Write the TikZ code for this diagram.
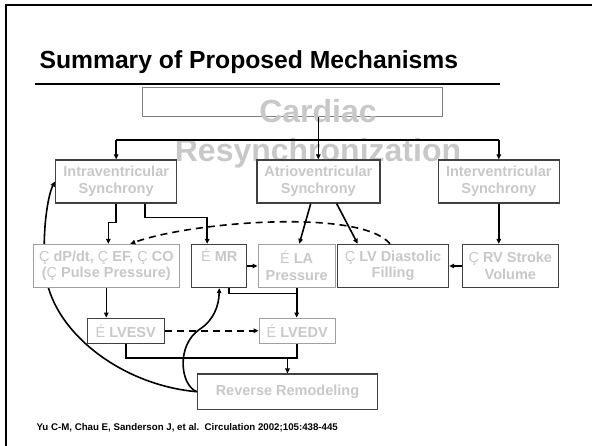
\documentclass[tikz,border=0pt]{standalone}
\usepackage{fontspec}
\setmainfont{Liberation Sans}
\usetikzlibrary{arrows.meta,backgrounds}
\definecolor{txtgray}{HTML}{C8C8C8}
\definecolor{edgedark}{HTML}{404040}
\definecolor{edgelight}{HTML}{A0A0A0}
\tikzset{>/.tip={Triangle[length=5pt,width=4.5pt]},
  blk/.style={draw=edgedark, line width=1.4pt, fill=white, text=txtgray, align=center,
    inner sep=0pt, font=\bfseries\fontsize{14.5}{16.5}\selectfont},
  blkl/.style={blk, draw=edgelight},
  wire/.style={line width=1.6pt},
  dsh/.style={dash pattern=on 7pt off 5pt}}
\newcommand{\upa}{\textmd{Ç}}
\newcommand{\dna}{\textmd{É}}

\begin{document}
\begin{tikzpicture}[x=1pt,y=-1pt]
\useasboundingbox (0,0) rectangle (592,446);
\draw[line width=2.4pt] (6,446) -- (6,5) -- (592,5);
\node[anchor=base west, font=\bfseries\fontsize{24.7}{29}\selectfont] (title) at (36,68.3) {Summary of Proposed Mechanisms};
\draw[line width=1.8pt] (35,84) -- (500,84);

\node[draw=gray, line width=1pt, minimum width=300, minimum height=29, inner sep=0pt] (card) at (292,102.5) {};
\node[anchor=base, text=txtgray, font=\bfseries\fontsize{32}{38}\selectfont] (crd1) at (318,123) {Cardiac};
\node[anchor=base, text=txtgray, font=\bfseries\fontsize{32}{38}\selectfont] (crd2) at (318,162) {Resynchronization};

\node[blk, minimum width=121, minimum height=43] (intra) at (116.2,181.5) {Intraventricular\\Synchrony};
\node[blk, minimum width=123, minimum height=43] (atrio) at (318.3,181.5) {Atrioventricular\\Synchrony};
\node[blk, minimum width=121, minimum height=43] (inter) at (498.8,181.5) {Interventricular\\Synchrony};

\node[blkl, minimum width=146, minimum height=43] (dp) at (106.3,266) {\upa{} dP/dt, \upa{} EF, \upa{} CO\\(\upa{} Pulse Pressure)};
\node[blk, minimum width=55, minimum height=43] (mr) at (219.2,266) {\dna{} MR\\\strut};
\node[blkl, minimum width=77, minimum height=43] (la) at (296.7,266) {\dna{} LA\\Pressure};
\node[blk, minimum width=111, minimum height=43] (lvd) at (393,266) {\upa{} LV Diastolic\\Filling};
\node[blk, minimum width=96, minimum height=43] (rv) at (510.3,266) {\upa{} RV Stroke\\Volume};

\node[blk, minimum width=77, minimum height=25] (esv) at (125.7,330.8) {\dna{} LVESV};
\node[blkl, minimum width=76, minimum height=25] (edv) at (297.2,330.8) {\dna{} LVEDV};
\node[blk, minimum width=180, minimum height=35] (rr) at (287.5,391.7) {Reverse Remodeling};

\node[anchor=base west, font=\bfseries\fontsize{9.7}{11}\selectfont] (cite) at (33,430) {Yu C-M, Chau E, Sanderson J, et al.\ \ Circulation 2002;105:438-445};

\coordinate (busl) at (116.2,140);
\coordinate (busr) at (498.8,140);
\coordinate (drop) at (318.3,117);
\coordinate (join) at (287.5,358.3);

\draw[wire] (busl) -- (busr);
\draw[wire,->] (drop) -- (atrio.north);
\draw[wire,->] (busl) -- (intra.north);
\draw[wire,->] (busr) -- (inter.north);

\draw[wire,->] (intra.south) -- ++(0,19) -| ([xshift=2pt]dp.north);
\draw[wire,->] ([xshift=29pt]intra.south) -- ++(0,14) -| ([xshift=-12pt]mr.north);
\draw[wire,->] ([xshift=-7.6pt]atrio.south) -- ([xshift=2.6pt]la.north);
\draw[wire,->] ([xshift=18.4pt]atrio.south) -- ([xshift=-35.3pt]lvd.north);
\draw[wire,->] (inter.south) -- (inter.south |- rv.north);
\draw[wire,->] (rv) -- (lvd);
\draw[wire,->] (mr) -- (la);
\draw[wire,dsh,->] ([xshift=-3pt]lvd.north) .. controls (360,208) and (190,222) .. ([xshift=24pt]dp.north);

\draw[wire] ([xshift=10pt]mr.south) -- ++(0,5.5) -| (la.south);
\draw[wire,->] (la.south) -- (la.south |- edv.north);
\draw[wire,->] (dp.south) -- (dp.south |- esv.north);
\draw[wire,dsh,->] (esv) -- (edv);
\draw[wire] (esv.south) |- (join) -| (edv.south);
\draw[wire,->] (join) -- (rr.north);
\draw[wire,->] (rr.west) .. controls (180,385) and (176,345) .. (200,329) .. controls (214,320) and (219,305) .. (mr.south);
\begin{pgfonlayer}{background}
\draw[wire,->] (rr.west) .. controls (120,385) and (50,330) .. (45,270) .. controls (42,230) and (48,195) .. (intra.west);
\end{pgfonlayer}
\end{tikzpicture}
\end{document}
